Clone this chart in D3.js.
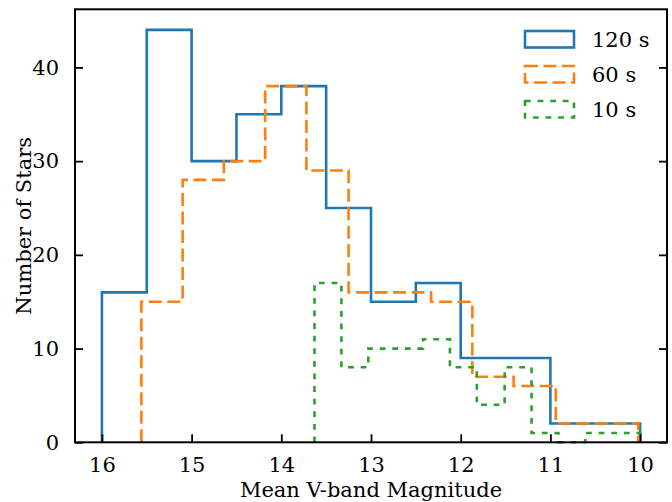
<!DOCTYPE html>
<html>
<head>
<meta charset="utf-8">
<script src="https://cdn.jsdelivr.net/npm/d3@7"></script>
<style>
  body { margin: 0; background: #fff; }
  svg { display: block; font-family: "DejaVu Serif", serif; }
</style>
</head>
<body>
<svg id="chart"></svg>
<script>
// bin edges and counts (magnitudes run bright to the right)
const edges120 = [16.0, 15.5, 15.0, 14.5, 14.0, 13.5, 13.0, 12.5, 12.0, 11.5, 11.0, 10.5, 10.0];
const counts120 = [16, 44, 30, 35, 38, 25, 15, 17, 9, 9, 2, 2];

const edges60 = [15.56, 15.10, 14.64, 14.18, 13.72, 13.25, 12.79, 12.33, 11.87, 11.41, 10.94, 10.48, 10.02];
const counts60 = [15, 28, 30, 38, 29, 16, 16, 15, 7, 6, 2, 2];

const edges10 = [13.63, 13.33, 13.03, 12.72, 12.42, 12.12, 11.82, 11.51, 11.21, 10.91, 10.61, 10.30, 10.00];
const counts10 = [17, 8, 10, 10, 11, 8, 4, 8, 1, 0, 1, 1];

const seriesNames = ["120 s", "60 s", "10 s"];
const xTicks = [16, 15, 14, 13, 12, 11, 10];
const yTicks = [0, 10, 20, 30, 40];

const width = 672;
const height = 502;
const margin = { top: 9.3, right: 5, bottom: 59.7, left: 75 };

const svg = d3.select("#chart")
    .attr("width", width)
    .attr("height", height);

const x = d3.scaleLinear()
    .domain([16.3, 9.7])
    .range([margin.left, width - margin.right]);

const y = d3.scaleLinear()
    .domain([0, 46.2])
    .range([height - margin.bottom, margin.top]);

const series = [
    { name: seriesNames[0], edges: edges120, counts: counts120, color: "#1f77b4", dash: null },
    { name: seriesNames[1], edges: edges60, counts: counts60, color: "#ff7f0e", dash: "13,5.5" },
    { name: seriesNames[2], edges: edges10, counts: counts10, color: "#2ca02c", dash: "5.8,6.8" }
];

// step outline like matplotlib histtype="step"
function stepPoints(edges, counts) {
    const pts = [[edges[0], 0]];
    counts.forEach((c, i) => {
        pts.push([edges[i], c]);
        pts.push([edges[i + 1], c]);
    });
    pts.push([edges[edges.length - 1], 0]);
    return pts;
}

const line = d3.line()
    .x(d => x(d[0]))
    .y(d => y(d[1]));

const plot = svg.append("g");

plot.selectAll("path.hist")
    .data(series)
    .enter().append("path")
    .attr("class", "hist")
    .attr("d", d => line(stepPoints(d.edges, d.counts)))
    .attr("fill", "none")
    .attr("stroke", d => d.color)
    .attr("stroke-width", 2.6)
    .attr("stroke-dasharray", d => d.dash)
    .attr("stroke-linejoin", "miter");

// axes, ticks pointing inward
const tickLen = 8;
const fontSize = 21;

const xAxis = svg.append("g")
    .attr("transform", `translate(0,${height - margin.bottom})`)
    .call(d3.axisBottom(x).tickValues(xTicks).tickFormat(d3.format("d"))
        .tickSizeInner(-tickLen).tickSizeOuter(0).tickPadding(tickLen + 7));

const yAxis = svg.append("g")
    .attr("transform", `translate(${margin.left},0)`)
    .call(d3.axisLeft(y).tickValues(yTicks).tickFormat(d3.format("d"))
        .tickSizeInner(-tickLen).tickSizeOuter(0).tickPadding(tickLen + 8));

const yRight = svg.append("g")
    .attr("transform", `translate(${width - margin.right},0)`)
    .call(d3.axisRight(y).tickValues(yTicks).tickSizeInner(-tickLen).tickSizeOuter(0).tickFormat(""));

[xAxis, yAxis, yRight].forEach(g => {
    g.select(".domain").remove();
    g.selectAll(".tick line").attr("stroke", "#000").attr("stroke-width", 1.8);
    g.selectAll(".tick text")
        .attr("fill", "#000")
        .style("font-family", "DejaVu Serif, serif")
        .style("font-size", fontSize + "px");
});

// frame
svg.append("rect")
    .attr("x", margin.left)
    .attr("y", margin.top)
    .attr("width", width - margin.left - margin.right)
    .attr("height", height - margin.top - margin.bottom)
    .attr("fill", "none")
    .attr("stroke", "#000")
    .attr("stroke-width", 2);

// axis titles
svg.append("text")
    .attr("x", (margin.left + width - margin.right) / 2)
    .attr("y", 497)
    .attr("text-anchor", "middle")
    .style("font-size", fontSize + "px")
    .text("Mean V-band Magnitude");

svg.append("text")
    .attr("transform", `translate(31,${(margin.top + height - margin.bottom) / 2}) rotate(-90)`)
    .attr("text-anchor", "middle")
    .style("font-size", fontSize + "px")
    .text("Number of Stars");

// legend
const legend = svg.append("g")
    .attr("transform", "translate(525,31)");

const item = legend.selectAll("g")
    .data(series)
    .enter().append("g")
    .attr("transform", (d, i) => `translate(0,${i * 35})`);

item.append("rect")
    .attr("width", 49)
    .attr("height", 16.5)
    .attr("fill", "none")
    .attr("stroke", d => d.color)
    .attr("stroke-width", 2.6)
    .attr("stroke-dasharray", d => d.dash);

item.append("text")
    .attr("x", 67)
    .attr("y", 16)
    .style("font-size", fontSize + "px")
    .text(d => d.name);
</script>
</body>
</html>
